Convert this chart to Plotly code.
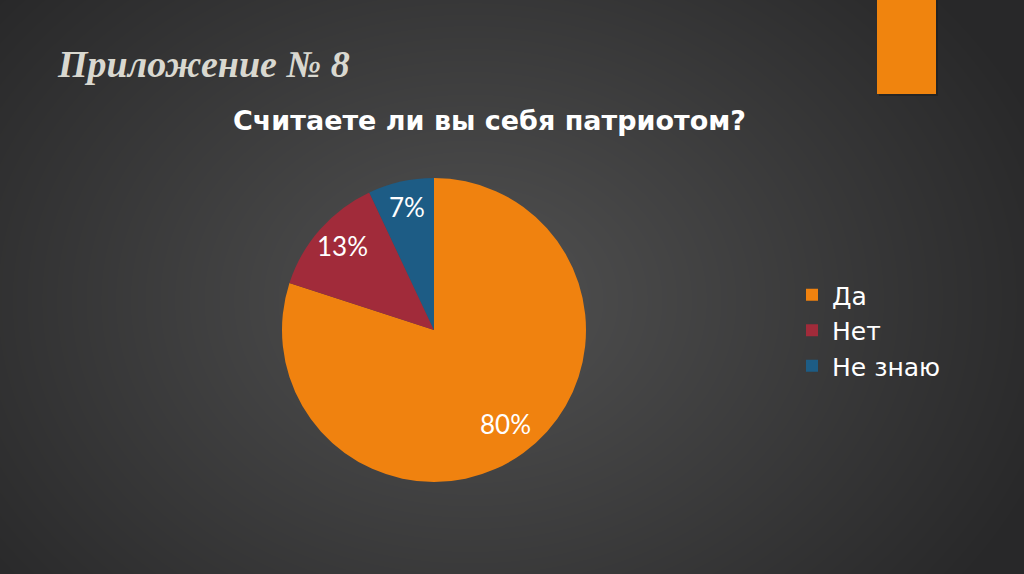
import base64, struct, zlib
import math
import numpy as np
import plotly.graph_objects as go

labels = ["Да", "Нет", "Не знаю"]
values = [80, 13, 7]
colors = ["#F0820F", "#A12B3A", "#1D5C85"]

W, H = 1024, 574

# radial gradient background as PNG
def make_png(arr):
    h, w, _ = arr.shape
    raw = b"".join(b"\x00" + arr[i].tobytes() for i in range(h))
    def chunk(t, d):
        c = struct.pack(">I", len(d)) + t + d
        return c + struct.pack(">I", zlib.crc32(t + d) & 0xffffffff)
    png = b"\x89PNG\r\n\x1a\n" + chunk(b"IHDR", struct.pack(">IIBBBBB", w, h, 8, 2, 0, 0, 0))
    png += chunk(b"IDAT", zlib.compress(raw, 9)) + chunk(b"IEND", b"")
    return "data:image/png;base64," + base64.b64encode(png).decode()

yy, xx = np.mgrid[0:H, 0:W]
d = np.sqrt(((xx - 470) / 620.0) ** 2 + ((yy - 300) / 480.0) ** 2)
d = np.clip(d, 0, 1)
inner = np.array([82, 82, 82], float)
outer = np.array([40, 40, 41], float)
img = inner[None, None, :] * (1 - d[..., None]) + outer[None, None, :] * d[..., None]
bg = make_png(img.astype(np.uint8))

# pie geometry (pixels)
CX, CY, R = 434, 330, 152

fig = go.Figure()
fig.add_trace(go.Pie(
    labels=labels, values=values,
    marker=dict(colors=colors, line=dict(width=0)),
    sort=False, direction="clockwise", rotation=0,
    textinfo="none",
    domain=dict(x=[(CX - R) / W, (CX + R) / W], y=[(H - CY - R) / H, (H - CY + R) / H]),
    hoverinfo="label+percent",
))

# percentage labels placed at ~0.8 R along each slice's mid angle
annotations = []
total = sum(values)
cum = 0
for v in values:
    mid = (cum + v / 2) / total * 2 * math.pi
    cum += v
    px = CX + 0.8 * R * math.sin(mid)
    py = CY - 0.8 * R * math.cos(mid) - 4
    annotations.append(dict(
        text=f"{round(v / total * 100)}%", xref="paper", yref="paper",
        x=px / W, y=1 - py / H, xanchor="center", yanchor="middle", showarrow=False,
        font=dict(family="Lato", size=26, color="#FFFFFF")))

annotations += [
    dict(text="<b><i>Приложение № 8</i></b>", xref="paper", yref="paper",
         x=55 / W, y=1 - 64 / H, xanchor="left", yanchor="middle", showarrow=False,
         font=dict(family="Liberation Serif", size=38, color="#D9D8D0")),
    dict(text="<b>Считаете ли вы себя патриотом?</b>", xref="paper", yref="paper",
         x=489 / W, y=1 - 120 / H, xanchor="center", yanchor="middle", showarrow=False,
         font=dict(family="DejaVu Sans", size=27, color="#FFFFFF")),
]

fig.update_layout(
    width=W, height=H,
    margin=dict(l=0, r=0, t=0, b=0),
    paper_bgcolor="#333333", plot_bgcolor="#333333",
    images=[dict(source=bg, xref="paper", yref="paper", x=0, y=1, sizex=1, sizey=1,
                 xanchor="left", yanchor="top", sizing="stretch", layer="below")],
    legend=dict(x=792 / W, y=1 - 272 / H, xanchor="left", yanchor="top",
                font=dict(family="DejaVu Sans", size=25, color="#FFFFFF"),
                bgcolor="rgba(0,0,0,0)", itemwidth=30),
    shapes=[
        dict(type="rect", xref="paper", yref="paper", x0=879 / W, x1=938 / W,
             y0=1 - 96 / H, y1=1.0, fillcolor="#1e1e1e", line=dict(width=0), opacity=0.6),
        dict(type="rect", xref="paper", yref="paper", x0=877 / W, x1=936 / W,
             y0=1 - 94 / H, y1=1.0, fillcolor="#F0840E", line=dict(width=0)),
    ],
    annotations=annotations,
)

fig.write_html("out.html", config={"displayModeBar": False},
               post_script="document.body.style.margin='0';document.body.style.overflow='hidden';")
